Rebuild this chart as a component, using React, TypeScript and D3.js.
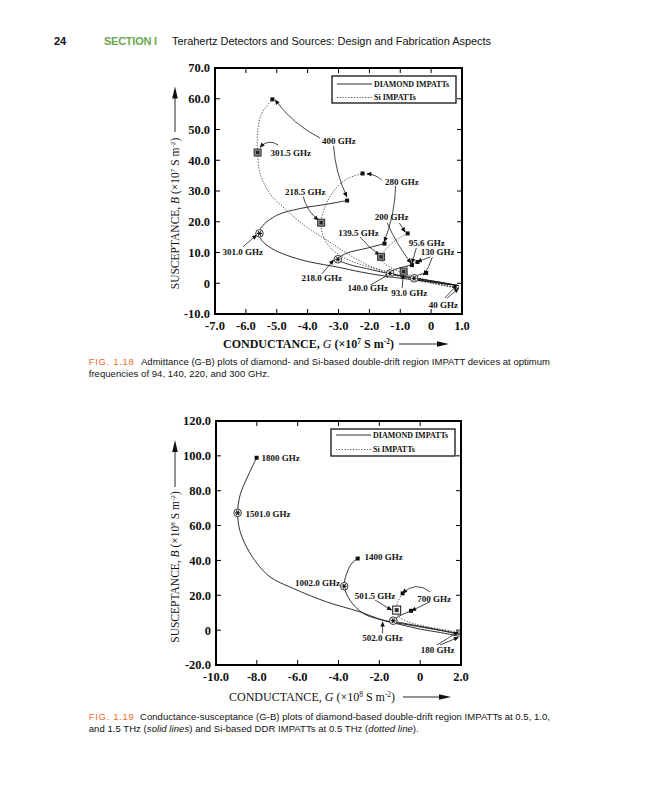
import React from "react";
import * as d3 from "d3";

type Pt = [number, number];
type Label = { text: string; g: number; b: number };
type Arrow = { from: Pt; to: Pt; bend: number };

// ---------------- FIG. 1.18 data (G ×10^7, B ×10^7) ----------------
const f18XTicks = [-7, -6, -5, -4, -3, -2, -1, 0, 1];
const f18YTicks = [-10, 0, 10, 20, 30, 40, 50, 60, 70];

const f18Diamond300: Pt[] = [[0.9, -0.8], [0.1, 0.3], [-0.8, 1.4], [-1.6, 2.5], [-2.3, 3.7], [-3.05, 5.3], [-3.92, 6.9], [-4.68, 9.1], [-5.16, 11.3], [-5.49, 14], [-5.56, 16.2], [-5.49, 18.3], [-5.0, 22.1], [-4.24, 24.3], [-3.38, 25.7], [-2.72, 26.9]];
const f18Diamond220: Pt[] = [[0.9, -0.8], [0.2, 0.5], [-0.6, 1.8], [-1.4, 3.2], [-2.1, 4.8], [-2.65, 6.1], [-3.02, 7.8], [-2.75, 9.7], [-2.08, 11.4], [-1.51, 12.9]];
const f18Diamond140: Pt[] = [[0.9, -0.8], [0.3, 0.3], [-0.4, 1.4], [-1.0, 2.4], [-1.33, 3.2], [-1.2, 4.3], [-0.9, 5.3], [-0.62, 5.9]];
const f18Diamond94: Pt[] = [[0.9, -0.8], [0.4, -0.1], [-0.1, 0.6], [-0.45, 1.2], [-0.55, 1.6], [-0.45, 2.5], [-0.16, 3.35]];
const f18Si300: Pt[] = [[0.9, -1.6], [0.1, -0.2], [-0.7, 1.4], [-1.5, 3.6], [-2.3, 7.2], [-2.8, 10.2], [-3.3, 13.5], [-4.03, 18.3], [-4.68, 23.7], [-5.22, 29.2], [-5.54, 35.7], [-5.62, 42.5], [-5.62, 49], [-5.5, 55], [-5.14, 59.8]];
const f18Si220: Pt[] = [[0.9, -1.6], [0.1, 0.0], [-0.8, 2.0], [-1.6, 4.2], [-2.4, 6.5], [-2.95, 9], [-3.3, 12], [-3.5, 15.5], [-3.56, 19.7], [-3.45, 24.5], [-3.15, 30], [-2.75, 33.8], [-2.22, 35.7]];
const f18Si140: Pt[] = [[0.9, -1.6], [0.1, 0.4], [-0.7, 2.6], [-1.25, 4.8], [-1.55, 6.8], [-1.62, 8.6], [-1.45, 11.2], [-1.15, 13.9], [-0.76, 16.2]];
const f18Si94: Pt[] = [[0.9, -1.6], [0.3, -0.4], [-0.3, 1.0], [-0.75, 2.6], [-0.89, 3.8], [-0.8, 5.2], [-0.62, 6.3], [-0.44, 6.9]];

const f18StarMarkers: Pt[] = [[-5.56, 16.2], [-3.02, 7.8], [-1.33, 3.2], [-0.55, 1.6]];
const f18SquareMarkers: Pt[] = [[-5.62, 42.5], [-3.56, 19.7], [-1.62, 8.6], [-0.89, 3.8]];
const f18EndDots: Pt[] = [[-5.14, 59.8], [-2.72, 26.9], [-2.22, 35.7], [-1.51, 12.9], [-0.76, 16.2], [-0.62, 5.9], [-0.44, 6.9], [-0.16, 3.35]];

const f18Labels: Label[] = [
  { text: "400 GHz", g: -2.99, b: 46.26 },
  { text: "301.5 GHz", g: -4.55, b: 42.46 },
  { text: "280 GHz", g: -0.95, b: 33.02 },
  { text: "218.5 GHz", g: -4.08, b: 29.67 },
  { text: "200 GHz", g: -1.28, b: 21.64 },
  { text: "139.5 GHz", g: -2.35, b: 16.44 },
  { text: "95.6 GHz", g: -0.14, b: 12.99 },
  { text: "130 GHz", g: 0.21, b: 10.26 },
  { text: "301.0 GHz", g: -6.1, b: 10.26 },
  { text: "218.0 GHz", g: -3.54, b: 1.61 },
  { text: "140.0 GHz", g: -2.05, b: -1.54 },
  { text: "93.0 GHz", g: -0.71, b: -3.27 },
  { text: "40 GHz", g: 0.4, b: -7.07 },
];

const f18Arrows: Arrow[] = [
  { from: [-3.6, 47.24], to: [-5.05, 59.59], bend: 7 },
  { from: [-3.16, 44.63], to: [-2.73, 28.15], bend: -5 },
  { from: [-4.95, 44.96], to: [-5.54, 44.21], bend: -8 },
  { from: [-1.6, 33.58], to: [-2.08, 35.53], bend: -3 },
  { from: [-1.15, 31.63], to: [-1.52, 13.51], bend: 5 },
  { from: [-4.14, 28.15], to: [-3.65, 20.57], bend: -5 },
  { from: [-1.03, 19.59], to: [-0.84, 16.67], bend: 0 },
  { from: [-1.42, 19.59], to: [-0.65, 6.59], bend: -3 },
  { from: [-2.3, 15.04], to: [-1.67, 9.19], bend: -2 },
  { from: [-0.48, 11.46], to: [-0.62, 6.49], bend: 0 },
  { from: [-0.03, 8.54], to: [-0.45, 7.01], bend: 0 },
  { from: [0.04, 8.54], to: [-0.25, 2.68], bend: 2 },
  { from: [-6.09, 11.89], to: [-5.65, 15.69], bend: 0 },
  { from: [-3.54, 3.01], to: [-3.16, 7.56], bend: 0 },
  { from: [-1.97, -0.57], to: [-1.33, 3.01], bend: 0 },
  { from: [-0.94, -1.54], to: [-0.9, 3.01], bend: 0 },
  { from: [0.44, -4.8], to: [0.84, -0.57], bend: 0 },
  { from: [0.52, -4.8], to: [0.89, -1.64], bend: 0 },
];

// ---------------- FIG. 1.19 data (G ×10^8, B ×10^8) ----------------
const f19XTicks = [-10, -8, -6, -4, -2, 0, 2];
const f19YTicks = [-20, 0, 20, 40, 60, 80, 100, 120];

const f19Diamond1500: Pt[] = [[1.95, -2.6], [1.0, -0.2], [-0.5, 2.9], [-1.8, 5.7], [-2.95, 10.5], [-4.58, 16.2], [-6.21, 23.9], [-7.36, 30.6], [-8.1, 40], [-8.6, 50], [-8.85, 58], [-8.94, 67.3], [-8.82, 77.5], [-8.42, 88.9], [-8.01, 98.9]];
const f19Diamond1000: Pt[] = [[1.95, -3.6], [1.0, -1.4], [0, 0.6], [-1.0, 3.3], [-1.97, 6.1], [-2.79, 9.6], [-3.44, 17.2], [-3.72, 25.2], [-3.6, 32.5], [-3.35, 38.3], [-3.06, 41.1]];
const f19Diamond500: Pt[] = [[1.95, -2.0], [1.0, 0.0], [0.0, 2.2], [-0.8, 4.0], [-1.32, 5.4], [-1.0, 8.2], [-0.45, 11.1]];
const f19Si500: Pt[] = [[1.95, -1.2], [1.0, 0.6], [0.1, 2.6], [-0.6, 4.8], [-1.05, 7.8], [-1.15, 11.5], [-1.1, 16], [-0.86, 21.1]];

const f19StarMarkers: Pt[] = [[-8.94, 67.3], [-3.72, 25.2], [-1.32, 5.4]];
const f19SquareMarkers: Pt[] = [[-1.15, 11.5]];
const f19EndDots: Pt[] = [[-8.01, 98.9], [-3.06, 41.1], [-0.86, 21.1], [-0.45, 11.1]];

const f19Labels: Label[] = [
  { text: "1800 GHz", g: -6.84, b: 98.91 },
  { text: "1501.0 GHz", g: -7.45, b: 67.01 },
  { text: "1400 GHz", g: -1.79, b: 42.11 },
  { text: "1002.0 GHz", g: -5.03, b: 26.85 },
  { text: "501.5 GHz", g: -2.21, b: 19.74 },
  { text: "700 GHz", g: 0.68, b: 18.24 },
  { text: "502.0 GHz", g: -1.85, b: -4.7 },
  { text: "180 GHz", g: 0.85, b: -11.42 },
];

const f19Arrows: Arrow[] = [
  { from: [-2.21, 17.27], to: [-1.4, 11.53], bend: 0 },
  { from: [0.48, 22.03], to: [-0.86, 21.11], bend: -12 },
  { from: [0.48, 16.29], to: [-0.42, 11.13], bend: 0 },
  { from: [-1.84, -1.84], to: [-1.84, 4.65], bend: 0 },
  { from: [0.82, -8.55], to: [1.87, -0.92], bend: 0 },
  { from: [0.97, -8.55], to: [1.87, -4.13], bend: 0 },
];

const legendNames = ["DIAMOND IMPATTs", "Si IMPATTs"];

const SERIF = "'Liberation Serif','Times New Roman',Times,serif";
const SANS = "'Liberation Sans',Arial,Helvetica,sans-serif";

const fmt = (v: number) => (v === 0 ? "0" : v.toFixed(1));

type PanelCfg = {
  xDomain: [number, number];
  yDomain: [number, number];
  xRange: [number, number];
  yRange: [number, number];
  xTicks: number[];
  yTicks: number[];
  solid: Pt[][];
  dotted: Pt[][];
  stars: Pt[];
  squares: Pt[];
  hollowSquares: boolean;
  dots: Pt[];
  labels: Label[];
  arrows: Arrow[];
  legendRows: [number, number];
};

function Panel({ cfg }: { cfg: PanelCfg }) {
  const x = d3.scaleLinear().domain(cfg.xDomain).range(cfg.xRange);
  const y = d3.scaleLinear().domain(cfg.yDomain).range(cfg.yRange);
  const line = d3
    .line<Pt>()
    .x((d) => x(d[0]))
    .y((d) => y(d[1]))
    .curve(d3.curveCatmullRom.alpha(0.5));
  const [x0, x1] = cfg.xRange;
  const [yb, yt] = cfg.yRange;
  const tick = 5;

  const arrowPath = (a: Arrow) => {
    const sx = x(a.from[0]), sy = y(a.from[1]);
    const ex = x(a.to[0]), ey = y(a.to[1]);
    const dx = ex - sx, dy = ey - sy;
    const L = Math.hypot(dx, dy) || 1;
    const nx = dy / L, ny = -dx / L;
    const cx = (sx + ex) / 2 + nx * a.bend;
    const cy = (sy + ey) / 2 + ny * a.bend;
    return `M${sx},${sy}Q${cx},${cy} ${ex},${ey}`;
  };

  const lx = x1 - 130;
  const ly = yt + 8;

  return (
    <g>
      {cfg.dotted.map((c, i) => (
        <path key={"d" + i} d={line(c) || ""} fill="none" stroke="#444" strokeWidth={0.9} strokeDasharray="1.3 1.5" />
      ))}
      {cfg.solid.map((c, i) => (
        <path key={"s" + i} d={line(c) || ""} fill="none" stroke="#1a1a1a" strokeWidth={0.9} />
      ))}
      {cfg.arrows.map((a, i) => (
        <path key={"a" + i} d={arrowPath(a)} fill="none" stroke="#1a1a1a" strokeWidth={0.8} markerEnd="url(#ah)" />
      ))}
      {cfg.squares.map((p, i) =>
        cfg.hollowSquares ? (
          <g key={"q" + i}>
            <rect x={x(p[0]) - 4} y={y(p[1]) - 4} width={8} height={8} fill="#fff" stroke="#111" strokeWidth={1} />
            <rect x={x(p[0]) - 2} y={y(p[1]) - 2} width={4} height={4} fill="#333" />
          </g>
        ) : (
          <g key={"q" + i}>
            <rect x={x(p[0]) - 3.5} y={y(p[1]) - 3.5} width={7} height={7} fill="#888" stroke="#222" strokeWidth={0.9} />
            <rect x={x(p[0]) - 1.6} y={y(p[1]) - 1.6} width={3.2} height={3.2} fill="#222" />
          </g>
        )
      )}
      {cfg.stars.map((p, i) => {
        const cx = x(p[0]), cy = y(p[1]);
        return (
          <g key={"st" + i}>
            <circle cx={cx} cy={cy} r={3.8} fill="#fff" stroke="#222" strokeWidth={0.9} />
            {[0, 60, 120].map((ang) => (
              <line
                key={ang}
                x1={cx - 2.6 * Math.cos((ang * Math.PI) / 180)}
                y1={cy - 2.6 * Math.sin((ang * Math.PI) / 180)}
                x2={cx + 2.6 * Math.cos((ang * Math.PI) / 180)}
                y2={cy + 2.6 * Math.sin((ang * Math.PI) / 180)}
                stroke="#111"
                strokeWidth={1.1}
              />
            ))}
          </g>
        );
      })}
      {cfg.dots.map((p, i) => (
        <rect key={"e" + i} x={x(p[0]) - 2} y={y(p[1]) - 2} width={4} height={4} fill="#111" />
      ))}
      {cfg.labels.map((l, i) => (
        <text key={"l" + i} x={x(l.g)} y={y(l.b)} dy="0.35em" textAnchor="middle" fontFamily={SERIF} fontSize={9} fontWeight="bold" fill="#111">
          {l.text}
        </text>
      ))}
      <rect x={lx} y={ly} width={124} height={27} fill="#fff" stroke="#111" strokeWidth={1.3} />
      {legendNames.map((n, i) => (
        <g key={n}>
          <line
            x1={lx + 5}
            x2={lx + 40}
            y1={yt + cfg.legendRows[i]}
            y2={yt + cfg.legendRows[i]}
            stroke={i === 0 ? "#1a1a1a" : "#444"}
            strokeWidth={0.9}
            strokeDasharray={i === 0 ? undefined : "1.3 1.5"}
          />
          <text x={lx + 42} y={yt + cfg.legendRows[i]} dy="0.35em" fontFamily={SERIF} fontSize={8} fontWeight="bold" fill="#111">
            {n}
          </text>
        </g>
      ))}
      <rect x={x0} y={yt} width={x1 - x0} height={yb - yt} fill="none" stroke="#000" strokeWidth={2} />
      {cfg.xTicks.map((t) => (
        <g key={"xt" + t}>
          <line x1={x(t)} x2={x(t)} y1={yb} y2={yb - tick} stroke="#000" strokeWidth={1} />
          <line x1={x(t)} x2={x(t)} y1={yt} y2={yt + tick} stroke="#000" strokeWidth={1} />
          <text x={x(t)} y={yb + 15.5} textAnchor="middle" fontFamily={SERIF} fontSize={12.5} fontWeight="bold" fill="#111">
            {fmt(t)}
          </text>
        </g>
      ))}
      {cfg.yTicks.map((t) => (
        <g key={"yt" + t}>
          <line x1={x0} x2={x0 + tick} y1={y(t)} y2={y(t)} stroke="#000" strokeWidth={1} />
          <line x1={x1} x2={x1 - tick} y1={y(t)} y2={y(t)} stroke="#000" strokeWidth={1} />
          <text x={x0 - 5} y={y(t)} dy="0.35em" textAnchor="end" fontFamily={SERIF} fontSize={12.5} fontWeight="bold" fill="#111">
            {fmt(t)}
          </text>
        </g>
      ))}
    </g>
  );
}

function AxisTitle({ x, y, name, letter, exp, bold, size, rotate }: { x: number; y: number; name: string; letter: string; exp: string; bold: boolean; size: number; rotate: boolean }) {
  const s = size * 0.62;
  return (
    <text
      transform={rotate ? `translate(${x},${y}) rotate(-90)` : `translate(${x},${y})`}
      textAnchor={rotate ? "middle" : "start"}
      fontFamily={SERIF}
      fontSize={size}
      fontWeight={bold ? "bold" : "normal"}
      fill="#111"
    >
      {name + ", "}
      <tspan fontStyle="italic" fontWeight="normal">{letter}</tspan>
      {" (×10"}
      <tspan dy={-4.5} fontSize={s}>{exp}</tspan>
      <tspan dy={4.5}>{" S m"}</tspan>
      <tspan dy={-4.5} fontSize={s}>{"-2"}</tspan>
      <tspan dy={4.5}>{")"}</tspan>
    </text>
  );
}

function HArrow({ x1, x2, y }: { x1: number; x2: number; y: number }) {
  return (
    <g>
      <line x1={x1} x2={x2 - 8} y1={y} y2={y} stroke="#111" strokeWidth={0.9} />
      <polygon points={`${x2 - 12},${y - 2.8} ${x2},${y} ${x2 - 12},${y + 2.8}`} fill="#111" />
    </g>
  );
}

function VArrow({ x, y1, y2 }: { x: number; y1: number; y2: number }) {
  return (
    <g>
      <line x1={x} x2={x} y1={y1} y2={y2 + 8} stroke="#111" strokeWidth={0.9} />
      <polygon points={`${x - 2.8},${y2 + 12} ${x},${y2} ${x + 2.8},${y2 + 12}`} fill="#111" />
    </g>
  );
}

export default function App() {
  const f18: PanelCfg = {
    xDomain: [-7, 1],
    yDomain: [-10, 70],
    xRange: [215, 462],
    yRange: [314, 68],
    xTicks: f18XTicks,
    yTicks: f18YTicks,
    solid: [f18Diamond300, f18Diamond220, f18Diamond140, f18Diamond94],
    dotted: [f18Si300, f18Si220, f18Si140, f18Si94],
    stars: f18StarMarkers,
    squares: f18SquareMarkers,
    hollowSquares: false,
    dots: f18EndDots,
    labels: f18Labels,
    arrows: f18Arrows,
    legendRows: [16, 29.5],
  };
  const f19: PanelCfg = {
    xDomain: [-10, 2],
    yDomain: [-20, 120],
    xRange: [216, 461],
    yRange: [665, 421],
    xTicks: f19XTicks,
    yTicks: f19YTicks,
    solid: [f19Diamond1500, f19Diamond1000, f19Diamond500],
    dotted: [f19Si500],
    stars: f19StarMarkers,
    squares: f19SquareMarkers,
    hollowSquares: true,
    dots: f19EndDots,
    labels: f19Labels,
    arrows: f19Arrows,
    legendRows: [14, 28.5],
  };

  return (
    <svg width={648} height={800} viewBox="0 0 648 800" style={{ position: "absolute", left: 0, top: 0, background: "#fff" }}>
      <defs>
        <marker id="ah" viewBox="0 0 10 10" refX={9} refY={5} markerWidth={6} markerHeight={5} markerUnits="userSpaceOnUse" orient="auto">
          <path d="M0,0.5 L10,5 L0,9.5 z" fill="#111" />
        </marker>
      </defs>
      <rect x={0} y={0} width={648} height={800} fill="#fff" />

      <text x={54} y={45} fontFamily={SANS} fontSize={11} fontWeight="bold" fill="#111">24</text>
      <text x={104} y={45} fontFamily={SANS} fontSize={11} fontWeight="bold" fill="#6aa84f" textLength={53}>SECTION I</text>
      <text x={172} y={45} fontFamily={SANS} fontSize={11} fill="#111" textLength={319}>
        Terahertz Detectors and Sources: Design and Fabrication Aspects
      </text>

      <Panel cfg={f18} />
      <AxisTitle x={179} y={213.5} name="SUSCEPTANCE" letter="B" exp="7" bold={false} size={11.5} rotate={true} />
      <VArrow x={175} y1={132} y2={86.5} />
      <AxisTitle x={223} y={348} name="CONDUCTANCE" letter="G" exp="7" bold={true} size={12} rotate={false} />
      <HArrow x1={399} x2={449} y={344} />
      <text x={88.7} y={365} fontFamily={SANS} fontSize={9.5} fill="#ef6a2c" textLength={45}>FIG. 1.18</text>
      <text x={141} y={365} fontFamily={SANS} fontSize={9.5} fill="#111" textLength={409}>
        Admittance (G-B) plots of diamond- and Si-based double-drift region IMPATT devices at optimum
      </text>
      <text x={88.7} y={377} fontFamily={SANS} fontSize={9.5} fill="#111" textLength={181}>
        frequencies of 94, 140, 220, and 300 GHz.
      </text>

      <Panel cfg={f19} />
      <AxisTitle x={179} y={567} name="SUSCEPTANCE" letter="B" exp="8" bold={false} size={11.5} rotate={true} />
      <VArrow x={175} y1={487} y2={440} />
      <AxisTitle x={229} y={701} name="CONDUCTANCE" letter="G" exp="8" bold={false} size={12} rotate={false} />
      <HArrow x1={403} x2={451} y={697} />
      <text x={88.7} y={720} fontFamily={SANS} fontSize={9.5} fill="#ef6a2c" textLength={45}>FIG. 1.19</text>
      <text x={140} y={720} fontFamily={SANS} fontSize={9.5} fill="#111" textLength={410}>
        Conductance-susceptance (G-B) plots of diamond-based double-drift region IMPATTs at 0.5, 1.0,
      </text>
      <text x={88.7} y={731.5} fontFamily={SANS} fontSize={9.5} fill="#111" textLength={330}>
        and 1.5 THz (<tspan fontStyle="italic">solid lines</tspan>) and Si-based DDR IMPATTs at 0.5 THz (<tspan fontStyle="italic">dotted line</tspan>).
      </text>
    </svg>
  );
}
